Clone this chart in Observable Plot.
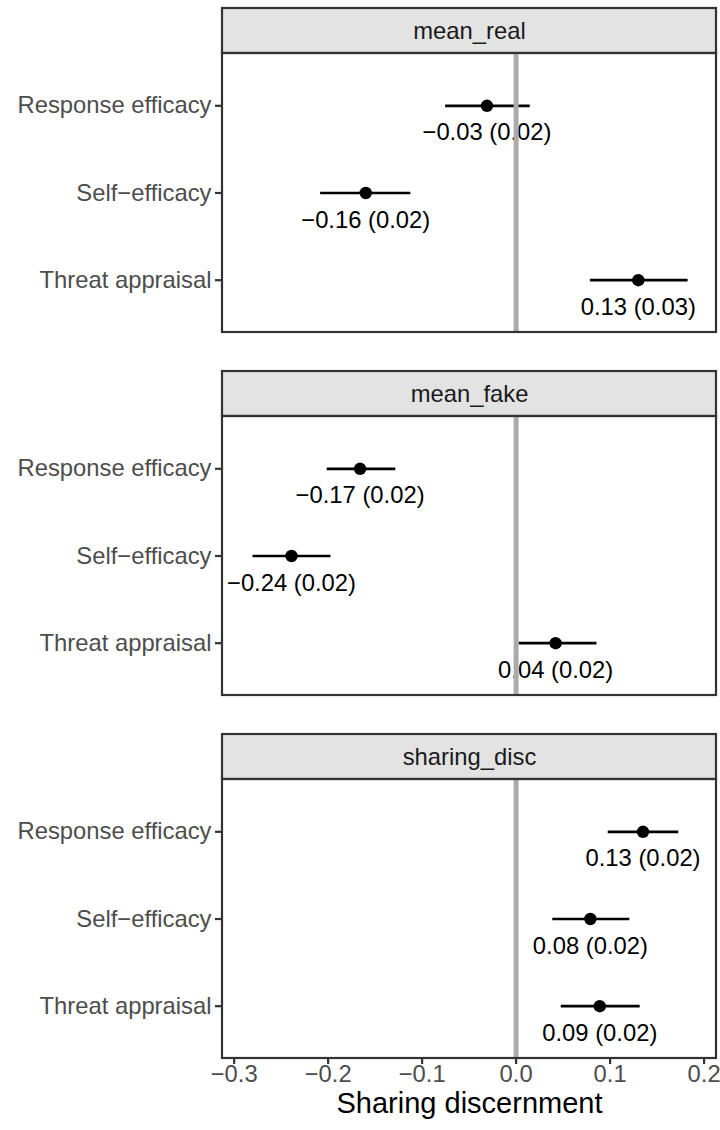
<!DOCTYPE html>
<html>
<head>
<meta charset="utf-8">
<script src="https://cdn.jsdelivr.net/npm/d3@7"></script>
<script src="https://cdn.jsdelivr.net/npm/@observablehq/plot@0.6"></script>
<style>
  html, body { margin: 0; padding: 0; background: #fff; }
  #chart svg { display: block; }
</style>
</head>
<body>
<div id="chart"></div>
<script>
// ---- data ----
const panels = ["mean_real", "mean_fake", "sharing_disc"];
const categories = ["Response efficacy", "Self\u2212efficacy", "Threat appraisal"];

const estMeanReal = [-0.031, -0.160, 0.130];
const loMeanReal  = [-0.075, -0.208, 0.079];
const hiMeanReal  = [ 0.015, -0.112, 0.183];
const labMeanReal = ["\u22120.03 (0.02)", "\u22120.16 (0.02)", "0.13 (0.03)"];

const estMeanFake = [-0.166, -0.239, 0.042];
const loMeanFake  = [-0.201, -0.280, 0.003];
const hiMeanFake  = [-0.128, -0.197, 0.086];
const labMeanFake = ["\u22120.17 (0.02)", "\u22120.24 (0.02)", "0.04 (0.02)"];

const estSharing = [0.135, 0.079, 0.089];
const loSharing  = [0.098, 0.039, 0.048];
const hiSharing  = [0.173, 0.121, 0.132];
const labSharing = ["0.13 (0.02)", "0.08 (0.02)", "0.09 (0.02)"];

const xTicks = [-0.3, -0.2, -0.1, 0.0, 0.1, 0.2];
const xTitle = "Sharing discernment";

// ---- table for the library ----
const series = [
  [estMeanReal, loMeanReal, hiMeanReal, labMeanReal],
  [estMeanFake, loMeanFake, hiMeanFake, labMeanFake],
  [estSharing, loSharing, hiSharing, labSharing]
];
const rows = [];
panels.forEach((p, i) => {
  const [est, lo, hi, lab] = series[i];
  categories.forEach((c, j) => {
    rows.push({panel: p, cat: c, est: est[j], lo: lo[j], hi: hi[j], label: lab[j]});
  });
});

// discrete rows mapped to 1..n (first category on top), ggplot-like 0.6 expansion
const n = categories.length;
const rowPos = c => n - categories.indexOf(c);
const yLo = 0.4, yHi = n + 0.6;
const stripUnits = 0.516;            // strip height expressed in row units
const yTop = yHi + stripUnits;
const xDomain = [-0.3124, 0.2132];

const fmtX = d => (d < 0 ? "\u2212" : "") + Math.abs(d).toFixed(1);

const font = "'Liberation Sans', Arial, Helvetica, sans-serif";
const border = "#333333";
const bw = 2.2;
const fs = 23.8;

const chart = Plot.plot({
  width: 720,
  height: 1130,
  marginLeft: 222,
  marginRight: 4,
  marginTop: 7,
  marginBottom: 72,
  style: {fontFamily: font, background: "#fff", color: "#000"},
  x: {domain: xDomain},
  y: {domain: [yLo, yTop]},
  fy: {domain: panels, paddingInner: 0.1086, paddingOuter: 0, axis: null},
  marks: [
    // strip
    Plot.rect(panels, {
      fy: d => d, x1: () => xDomain[0], x2: () => xDomain[1],
      y1: () => yHi, y2: () => yTop,
      fill: "#e3e3e3", stroke: border, strokeWidth: bw
    }),
    Plot.text(panels, {
      fy: d => d, x: () => (xDomain[0] + xDomain[1]) / 2, y: () => (yHi + yTop) / 2,
      text: d => d, fontSize: fs, fill: "#1a1a1a"
    }),
    // error bars
    Plot.ruleY(rows, {fy: "panel", y: d => rowPos(d.cat), x1: "lo", x2: "hi",
      stroke: "#000", strokeWidth: 2.7}),
    Plot.dot(rows, {fy: "panel", y: d => rowPos(d.cat), x: "est", r: 6.2,
      fill: "#000", stroke: "none"}),
    Plot.text(rows, {fy: "panel", y: d => rowPos(d.cat), x: "est", text: "label",
      dy: 27, fontSize: fs, fill: "#000"}),
    // zero line
    Plot.ruleX([0], {y1: () => yLo, y2: () => yHi, stroke: "#ababab", strokeWidth: 5}),
    // panel border
    Plot.rect(panels, {
      fy: d => d, x1: () => xDomain[0], x2: () => xDomain[1],
      y1: () => yLo, y2: () => yHi,
      fill: "none", stroke: border, strokeWidth: bw
    }),
    // axes
    Plot.axisY({ticks: d3.range(1, n + 1), tickFormat: i => categories[n - i],
      tickSize: 7, tickPadding: 4, fontSize: fs, fill: "#4d4d4d",
      stroke: border, strokeWidth: bw, label: null}),
    Plot.axisX({ticks: xTicks, tickFormat: fmtX, tickSize: 6, tickPadding: 1,
      fontSize: fs, fill: "#4d4d4d", stroke: border, strokeWidth: bw, label: null}),
    Plot.text([xTitle], {fy: () => panels[panels.length - 1], frameAnchor: "bottom",
      lineAnchor: "middle", text: d => d, dy: 45, fontSize: 29, fill: "#000"})
  ]
});

document.getElementById("chart").appendChild(chart);
</script>
</body>
</html>
